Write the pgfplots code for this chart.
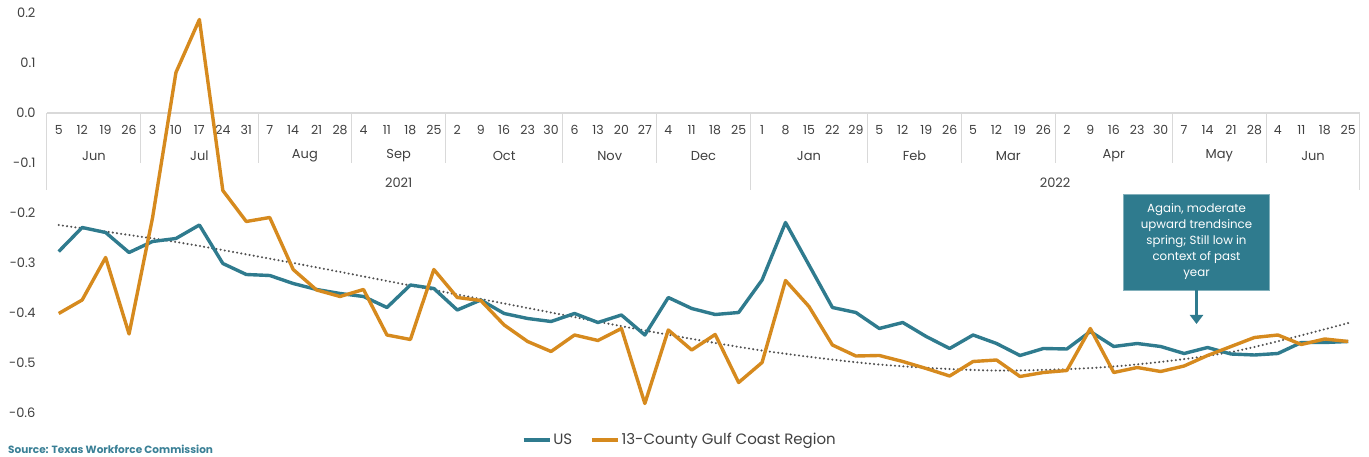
\documentclass[border=0pt]{standalone}
\usepackage{pgfplots}
\pgfplotsset{compat=1.18}
\usetikzlibrary{arrows.meta}
\usepackage{fontspec}
\setmainfont{Poppins}
\definecolor{usteal}{HTML}{2F7B8E}
\definecolor{gcorange}{HTML}{D68A1E}
\definecolor{axgray}{HTML}{D9D9D9}
\definecolor{txtgray}{HTML}{404040}
\definecolor{trendgray}{HTML}{505050}
\definecolor{srcteal}{HTML}{3A8096}
\tikzset{daylab/.style={font=\fontsize{12.5}{14}\selectfont,text=txtgray},
  monlab/.style={font=\fontsize{13}{14}\selectfont,text=txtgray}}
\begin{document}
\begin{tikzpicture}
\path[use as bounding box] (-47pt,-44pt) rectangle (1322pt,413pt);
\begin{axis}[
  scale only axis, width=1313pt, height=400pt,
  xmin=-0.5, xmax=55.5, ymin=-0.6, ymax=0.2,
  axis line style={draw=none},
  xtick=\empty,
  ytick={-0.6,-0.5,-0.4,-0.3,-0.2,-0.1,0,0.1,0.2},
  yticklabels={-0.6,-0.5,-0.4,-0.3,-0.2,-0.1,0.0,0.1,0.2},
  yticklabel style={font=\fontsize{13}{14}\selectfont, text=txtgray, xshift=-8pt},
  major tick length=0pt,
  tick style={draw=none},
  clip=false,
  legend columns=2,
  legend style={draw=none, fill=none, at={(0.482,-0.0675)}, anchor=center,
    font=\fontsize{15}{16}\selectfont, text=txtgray,
    /tikz/every even column/.append style={column sep=16pt}},
  legend image code/.code={\draw[#1, line width=3.4pt] (0,0) -- (26pt,0);},
]
% category axis
\draw[axgray, line width=1.3pt] (axis cs:-0.5,0) -- (axis cs:55.5,0);
\foreach \b in {3.5,8.5,12.5,16.5,21.5,25.5,34.5,38.5,42.5,47.5,51.5} {
  \edef\tmp{\noexpand\draw[axgray, line width=1pt] (axis cs:\b,0) -- ([yshift=-50pt]axis cs:\b,0);}\tmp
}
\foreach \b in {-0.5,29.5,55.5} {
  \edef\tmp{\noexpand\draw[axgray, line width=1pt] (axis cs:\b,0) -- ([yshift=-77pt]axis cs:\b,0);}\tmp
}
\foreach \d [count=\i from 0] in {5,12,19,26,3,10,17,24,31,7,14,21,28,4,11,18,25,2,9,16,23,30,6,13,20,27,4,11,18,25,1,8,15,22,29,5,12,19,26,5,12,19,26,2,9,16,23,30,7,14,21,28,4,11,18,25} {
  \edef\tmp{\noexpand\node[daylab] at (axis cs:\i,0) [yshift=-17pt] {\d};}\tmp
}
\foreach \m/\c in {Jun/1.5,Jul/6,Aug/10.5,Sep/14.5,Oct/19,Nov/23.5,Dec/27.5,Jan/32,Feb/36.5,Mar/40.5,Apr/45,May/49.5,Jun/53.5} {
  \edef\tmp{\noexpand\node[monlab] at (axis cs:\c,0) [yshift=-43pt] {\m};}\tmp
}
\node[monlab] at (axis cs:14.5,0) [yshift=-70pt] {2021};
\node[monlab] at (axis cs:42.5,0) [yshift=-70pt] {2022};

% trend
\addplot[forget plot, trendgray, line width=2.3pt, line cap=round, dash pattern=on 0pt off 4.2pt, smooth] coordinates {
(0,-0.224) (5,-0.258) (10,-0.300) (15,-0.345) (20,-0.390) (25,-0.435) (30,-0.475) (35,-0.503) (40,-0.515) (45,-0.507) (50,-0.478) (55,-0.420)};

\addplot[usteal, line width=3.4pt, line join=round] coordinates {
(0,-0.277) (1,-0.229) (2,-0.239) (3,-0.279) (4,-0.257) (5,-0.251) (6,-0.224) (7,-0.301) (8,-0.323) (9,-0.325)
(10,-0.341) (11,-0.353) (12,-0.361) (13,-0.367) (14,-0.389) (15,-0.344) (16,-0.351) (17,-0.394) (18,-0.374) (19,-0.401)
(20,-0.411) (21,-0.417) (22,-0.401) (23,-0.419) (24,-0.404) (25,-0.444) (26,-0.369) (27,-0.391) (28,-0.403) (29,-0.399)
(30,-0.334) (31,-0.219) (32,-0.304) (33,-0.389) (34,-0.399) (35,-0.431) (36,-0.419) (37,-0.447) (38,-0.471) (39,-0.444)
(40,-0.461) (41,-0.485) (42,-0.471) (43,-0.472) (44,-0.437) (45,-0.467) (46,-0.461) (47,-0.467) (48,-0.481) (49,-0.469)
(50,-0.482) (51,-0.484) (52,-0.481) (53,-0.459) (54,-0.459) (55,-0.457)};
\addlegendentry{US}

\addplot[gcorange, line width=3.4pt, line join=round] coordinates {
(0,-0.401) (1,-0.374) (2,-0.289) (3,-0.442) (4,-0.210) (5,0.081) (6,0.187) (7,-0.155) (8,-0.217) (9,-0.209)
(10,-0.313) (11,-0.354) (12,-0.367) (13,-0.353) (14,-0.444) (15,-0.453) (16,-0.313) (17,-0.369) (18,-0.375) (19,-0.424)
(20,-0.457) (21,-0.477) (22,-0.444) (23,-0.455) (24,-0.431) (25,-0.581) (26,-0.434) (27,-0.474) (28,-0.443) (29,-0.539)
(30,-0.499) (31,-0.335) (32,-0.387) (33,-0.464) (34,-0.486) (35,-0.485) (36,-0.497) (37,-0.511) (38,-0.526) (39,-0.497)
(40,-0.494) (41,-0.527) (42,-0.519) (43,-0.515) (44,-0.431) (45,-0.519) (46,-0.509) (47,-0.517) (48,-0.506) (49,-0.485)
(50,-0.467) (51,-0.449) (52,-0.444) (53,-0.463) (54,-0.452) (55,-0.457)};
\addlegendentry{13-County Gulf Coast Region}

% annotation
\node[fill=usteal, draw=usteal!60!white, line width=0.8pt, text=white, align=center,
  minimum width=146pt, minimum height=96pt, inner sep=2pt,
  font=\fontsize{11.8}{16}\selectfont] at (axis cs:48.53,-0.258)
  {Again, moderate\\upward trendsince\\spring; Still low in\\context of past\\year};
\draw[usteal, line width=3pt, -{Triangle[length=9pt,width=13pt]}] (axis cs:48.53,-0.355) -- (axis cs:48.53,-0.422);
\end{axis}
\node[anchor=west, text=srcteal, font=\fontsize{10.5}{12}\selectfont\bfseries, inner sep=0pt] at (-39pt,-36pt) {Source: Texas Workforce Commission};
\end{tikzpicture}
\end{document}
